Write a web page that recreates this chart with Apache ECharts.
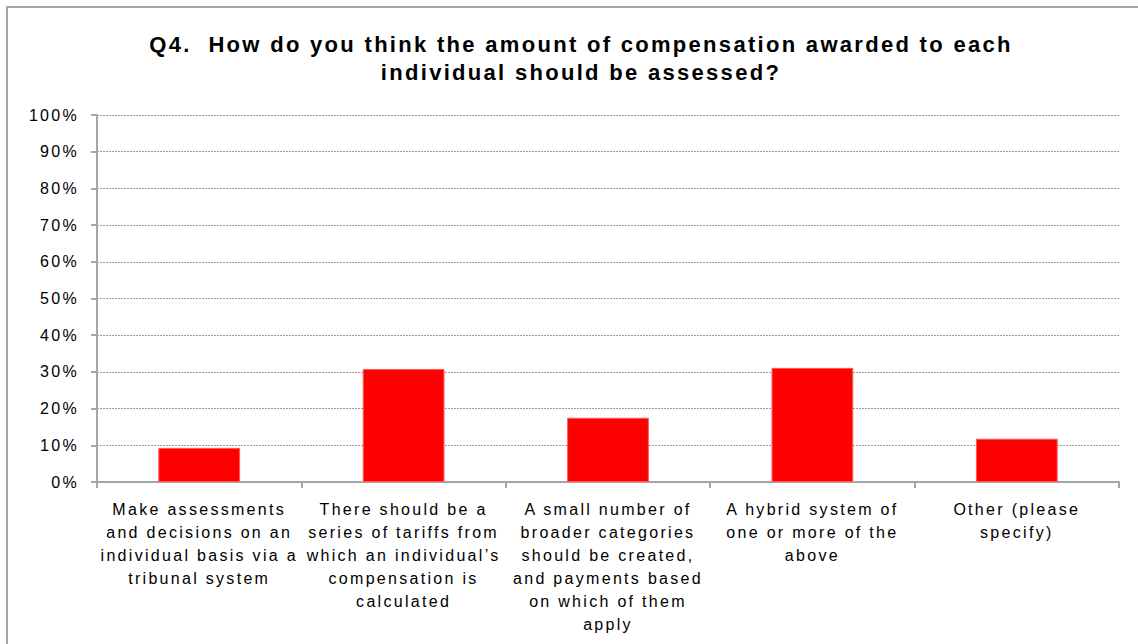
<!DOCTYPE html>
<html>
<head>
<meta charset="utf-8">
<style>
  html, body { margin: 0; padding: 0; background: #ffffff; }
  #chart { width: 1138px; height: 644px; }
  /* wide tracking of all chart text */
  #chart svg text { letter-spacing: 2.3px; }
</style>
<script src="https://cdn.jsdelivr.net/npm/echarts@6/dist/echarts.min.js"></script>
</head>
<body>
<div id="chart"></div>
<script>
// Survey answers to Q4 (share of respondents, %)
const categories = [
  'Make assessments\nand decisions on an\nindividual basis via a\ntribunal system',
  'There should be a\nseries of tariffs from\nwhich an individual\u2019s\ncompensation is\ncalculated',
  'A small number of\nbroader categories\nshould be created,\nand payments based\non which of them\napply',
  'A hybrid system of\none or more of the\nabove',
  'Other (please\nspecify)'
];
const shares = [9.3, 30.8, 17.5, 31.1, 11.8];
const yTicks = { min: 0, max: 100, interval: 10 };

const font = 'Liberation Sans, Arial, sans-serif';
const axisGrey = '#a6a6a6';

const chart = echarts.init(document.getElementById('chart'), null, { renderer: 'svg' });
chart.setOption({
  backgroundColor: '#ffffff',
  animation: false,
  title: {
    text: 'Q4.  How do you think the amount of compensation awarded to each\nindividual should be assessed?',
    left: 576,
    top: 25,
    textAlign: 'center',
    textStyle: {
      fontFamily: font,
      fontSize: 22,
      fontWeight: 'bold',
      color: '#000000',
      lineHeight: 28
    }
  },
  graphic: [{
    type: 'rect',
    shape: { x: 7, y: 7, width: 1300, height: 800 },
    style: { fill: 'none', stroke: axisGrey, lineWidth: 2 },
    silent: true
  }],
  grid: { left: 97, right: 19, top: 115, bottom: 162 },
  xAxis: {
    type: 'category',
    data: categories,
    axisLine: { lineStyle: { color: axisGrey, width: 2 } },
    axisTick: { show: true, length: 6, alignWithLabel: false, lineStyle: { color: axisGrey, width: 2 } },
    axisLabel: {
      interval: 0,
      margin: 16,
      fontFamily: font,
      fontSize: 16,
      lineHeight: 23,
      color: '#000000',
      align: 'center',
      verticalAlign: 'top'
    }
  },
  yAxis: {
    type: 'value',
    min: yTicks.min,
    max: yTicks.max,
    interval: yTicks.interval,
    axisLine: { show: true, lineStyle: { color: axisGrey, width: 2 } },
    axisTick: { show: true, length: 6, lineStyle: { color: axisGrey, width: 2 } },
    axisLabel: {
      margin: 18,
      fontFamily: font,
      fontSize: 16,
      color: '#000000',
      formatter: '{value}%'
    },
    splitLine: { show: true, lineStyle: { color: '#999999', width: 1, type: [2, 1] } }
  },
  series: [{
    type: 'bar',
    data: shares,
    barWidth: '40%',
    itemStyle: { color: '#ff0000', borderColor: '#ff5a5a', borderWidth: 1 }
  }]
});
</script>
</body>
</html>
